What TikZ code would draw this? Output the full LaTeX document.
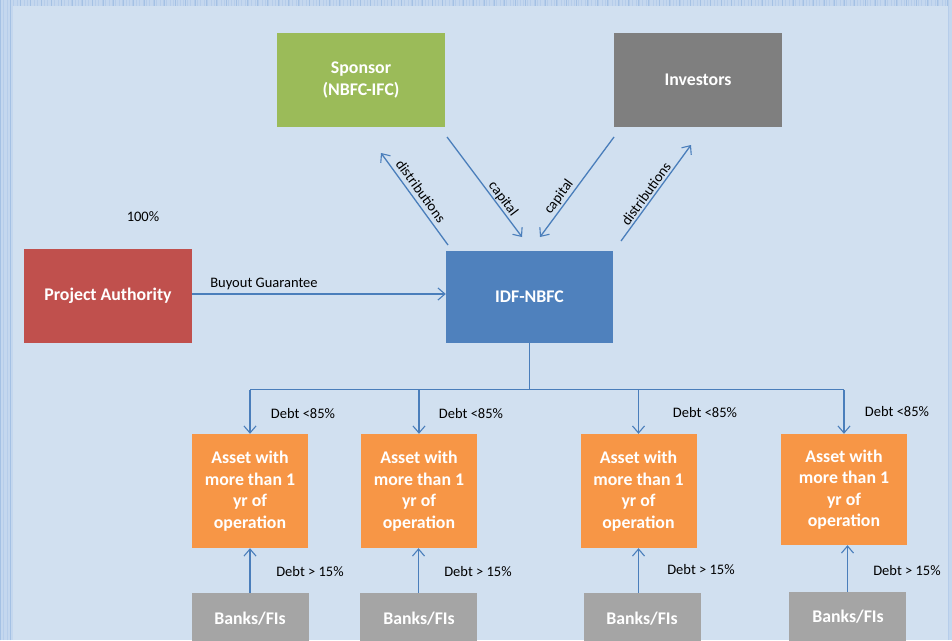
\documentclass[tikz,border=0pt]{standalone}
\usepackage{fontspec}
\setmainfont{Carlito}
\usetikzlibrary{arrows.meta}
\definecolor{bgblue}{HTML}{D1E0F0}
\definecolor{edgeblue}{HTML}{C4D7EE}
\definecolor{gridblue}{HTML}{A4C1E4}
\definecolor{finegrid}{HTML}{B6CDEA}
\definecolor{lineblue}{HTML}{4A7EBB}
\definecolor{sgreen}{HTML}{9BBB59}
\definecolor{igray}{HTML}{7F7F7F}
\definecolor{idfblue}{HTML}{4F81BD}
\definecolor{pared}{HTML}{C0504D}
\definecolor{aorange}{HTML}{F79646}
\definecolor{bgray}{HTML}{A5A5A5}
\tikzset{
  boxbase/.style={rectangle, inner sep=0pt, text=white, align=center,
    font=\fontsize{17.8}{21.5}\selectfont\bfseries},
  sponsorbox/.style={boxbase, fill=sgreen, minimum width=168pt, minimum height=94pt},
  investbox/.style={boxbase, fill=igray, minimum width=168pt, minimum height=94pt},
  idfbox/.style={boxbase, fill=idfblue, minimum width=167pt, minimum height=92pt},
  pabox/.style={boxbase, fill=pared, minimum width=168pt, minimum height=94pt},
  assetbox/.style={boxbase, fill=aorange, minimum width=116pt, minimum height=114pt},
  bankbox/.style={boxbase, fill=bgray, minimum width=117pt, minimum height=60pt},
  lbl/.style={font=\fontsize{14.5}{16}\selectfont, text=black, inner sep=0pt},
  conn/.style={draw=lineblue, line width=1.3pt, -{Straight Barb[length=7pt,width=12pt,line width=1.1pt]}},
  plainconn/.style={draw=lineblue, line width=1.3pt}
}
\begin{document}
\begin{tikzpicture}[x=1pt,y=-1pt]
\useasboundingbox (0,0) rectangle (952,640);
\begin{scope}
\clip (0,0) rectangle (952,640);
% background and patterned border
\fill[edgeblue] (0,0) rectangle (952,640);
\begin{scope}
  \clip (0,0) rectangle (13,640) (0,0) rectangle (952,6) (948,0) rectangle (952,640);
  \draw[finegrid, line width=0.6pt, step=3.4] (0,0) grid (952,640);
  \draw[gridblue, line width=0.9pt, step=10.3] (0,0) grid (952,640);
\end{scope}
\fill[bgblue] (13,6) rectangle (948,640);

% main boxes
\node[sponsorbox] (sp) at (361,80) {Sponsor\\(NBFC-IFC)};
\node[investbox] (inv) at (698,80) {Investors};
\node[idfbox] (idf) at (529.5,297) {IDF-NBFC};
\node[pabox] (pa) at (108,296) {Project Authority};

% asset boxes
\node[assetbox] (a1) at (250,491) {Asset with\\more than 1\\yr of\\operation};
\node[assetbox] (a2) at (419,491) {Asset with\\more than 1\\yr of\\operation};
\node[assetbox] (a3) at (638.5,491) {Asset with\\more than 1\\yr of\\operation};
\node[assetbox, minimum width=126pt, minimum height=111pt] (a4) at (844,489.5) {Asset with\\more than 1\\yr of\\operation};

% bank boxes
\node[bankbox] (b1) at (250,623) {};
\node[bankbox] (b2) at (418.5,623) {};
\node[bankbox] (b3) at (642,623) {};
\node[bankbox] (b4) at (847.5,622) {};
\node[boxbase] (bt1) at (250,619) {Banks/FIs};
\node[boxbase] (bt2) at (419,619) {Banks/FIs};
\node[boxbase] (bt3) at (642,619) {Banks/FIs};
\node[boxbase] (bt4) at (848,617) {Banks/FIs};

% diagonal connector end points
\coordinate (dl1) at (448,245); \coordinate (dl2) at (381,153);
\coordinate (cl1) at (447,137); \coordinate (cl2) at (522,237);
\coordinate (cr1) at (614,137); \coordinate (cr2) at (540,237);
\coordinate (dr1) at (621,241); \coordinate (dr2) at (691,145);
\draw[conn] (dl1) -- (dl2);
\draw[conn] (cl1) -- (cl2);
\draw[conn] (cr1) -- (cr2);
\draw[conn] (dr1) -- (dr2);
\node[lbl, rotate=-54] (ldl) at (421,191) {distributions};
\node[lbl, rotate=-53] (lcl) at (503,199) {capital};
\node[lbl, rotate=53.5] (lcr) at (559,197) {capital};
\node[lbl, rotate=54] (ldr) at (646,194) {distributions};

% buyout guarantee
\draw[conn] (pa.east |- 0,294) -- (idf.west |- 0,294);
\node[lbl] (lbg) at (264,284) {Buyout Guarantee};
\node[lbl] (l100) at (143,217) {100\%};

% tree to assets
\coordinate (j) at (idf.south |- 0,389.5);
\draw[plainconn] (idf.south) -- (j);
\draw[plainconn] (a1.north |- j) -- (a4.north |- j);
\draw[conn] (a1.north |- j) -- (a1.north);
\draw[conn] (a2.north |- j) -- (a2.north);
\draw[conn] (a3.north |- j) -- (a3.north);
\draw[conn] (a4.north |- j) -- (a4.north);
\node[lbl] (d1) at (303,414) {Debt <85\%};
\node[lbl] (d2) at (471,414) {Debt <85\%};
\node[lbl] (d3) at (705,413) {Debt <85\%};
\node[lbl] (d4) at (897,412) {Debt <85\%};

% banks to assets
\draw[conn] (b1.north) -- (b1.north |- a1.south);
\draw[conn] (b2.north) -- (b2.north |- a2.south);
\draw[conn] (b3.north -| a3.south) -- (a3.south);
\draw[conn] (b4.north) -- (b4.north |- a4.south);
\node[lbl] (e1) at (310,572) {Debt > 15\%};
\node[lbl] (e2) at (478,572) {Debt > 15\%};
\node[lbl] (e3) at (701,570) {Debt > 15\%};
\node[lbl] (e4) at (907,571) {Debt > 15\%};
\end{scope}
\end{tikzpicture}
\end{document}
